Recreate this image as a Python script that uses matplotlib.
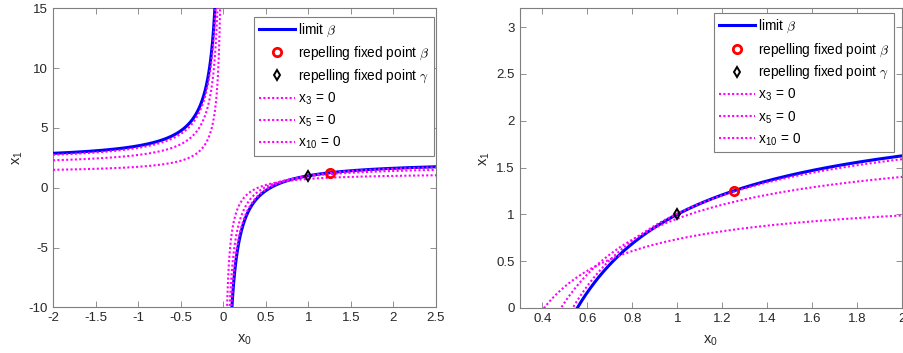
import matplotlib.pyplot as plt
import numpy as np

plt.rcParams["font.family"] = ["Liberation Sans", "DejaVu Sans"]
plt.rcParams["mathtext.fontset"] = "cm"

# curves are hyperbolas x1 = a - b / x0 (coefficients)
LIMIT_A, LIMIT_B = 2.25, 1.25
LEVEL_LABELS = [r"x$_\mathregular{3}$ = 0", r"x$_\mathregular{5}$ = 0",
                r"x$_\mathregular{10}$ = 0"]
LEVEL_A = [1.241, 1.846, 2.170]
LEVEL_B = [0.506, 0.892, 1.161]
BETA_PT = (1.25, 1.25)
GAMMA_PT = (1.0, 1.0)

PANELS = [
    dict(rect=[53 / 904, 45.7 / 353, 383 / 904, 299 / 353],
         xlim=(-2, 2.5), ylim=(-10, 15),
         xticks=np.arange(-2, 2.51, 0.5), yticks=np.arange(-10, 16, 5),
         legend_anchor=(434 / 904, (353 - 16.7) / 353)),
    dict(rect=[519.8 / 904, 45 / 353, 382.5 / 904, 299.7 / 353],
         xlim=(0.3, 2), ylim=(0, 3.2),
         xticks=np.arange(0.4, 2.01, 0.2), yticks=np.arange(0, 3.01, 0.5),
         legend_anchor=(894.3 / 904, (353 - 13.3) / 353)),
]

TXT = "#262626"
SPINE = "#7f7f7f"


def branches(x_lo, x_hi):
    neg = np.linspace(x_lo, -1e-3, 4000) if x_lo < 0 else np.array([])
    pos = np.linspace(max(x_lo, 1e-3), x_hi, 4000)
    return np.concatenate([neg, [np.nan], pos])


fig = plt.figure(figsize=(9.04, 3.53), dpi=100)
for p in PANELS:
    ax = fig.add_axes(p["rect"])
    x0 = branches(p["xlim"][0], p["xlim"][1])
    ax.plot(x0, LIMIT_A - LIMIT_B / x0, color="#0000ff", lw=2.2,
            label=r"limit $\beta$", zorder=3)
    ax.plot(*BETA_PT, "o", ms=6, mfc="none", mec="#ff0000", mew=2,
            label=r"repelling fixed point $\beta$", zorder=6)
    ax.plot(*GAMMA_PT, "d", ms=5.5, mfc="none", mec="black", mew=1.4,
            label=r"repelling fixed point $\gamma$", zorder=6)
    for lab, a, b in zip(LEVEL_LABELS, LEVEL_A, LEVEL_B):
        ax.plot(x0, a - b / x0, color="#ff00ff", lw=1.5, dashes=(1, 1.1),
                label=lab, zorder=4)

    ax.set_xlim(*p["xlim"])
    ax.set_ylim(*p["ylim"])
    ax.set_xticks(p["xticks"])
    ax.set_yticks(p["yticks"])
    ax.set_xticklabels([f"{round(v, 2):g}" for v in p["xticks"]])
    ax.set_yticklabels([f"{round(v, 2):g}" for v in p["yticks"]])
    ax.tick_params(direction="in", top=True, right=True, length=4,
                   width=0.6, colors=SPINE, labelcolor=TXT, labelsize=9.5)
    for s in ax.spines.values():
        s.set_color(SPINE)
        s.set_linewidth(0.8)
    ax.set_xlabel(r"x$_\mathregular{0}$", color=TXT, fontsize=10.5, labelpad=6)
    ax.set_ylabel(r"x$_\mathregular{1}$", color=TXT, fontsize=10.5, labelpad=3)

    leg = ax.legend(loc="upper right", bbox_to_anchor=p["legend_anchor"],
                    bbox_transform=fig.transFigure, fontsize=9.8,
                    fancybox=False, framealpha=1, edgecolor=SPINE,
                    borderaxespad=0, handlelength=2.65, handletextpad=0.25,
                    labelspacing=0.42, borderpad=0.35)
    leg.get_frame().set_linewidth(0.8)

plt.savefig("out.png", dpi=100)
